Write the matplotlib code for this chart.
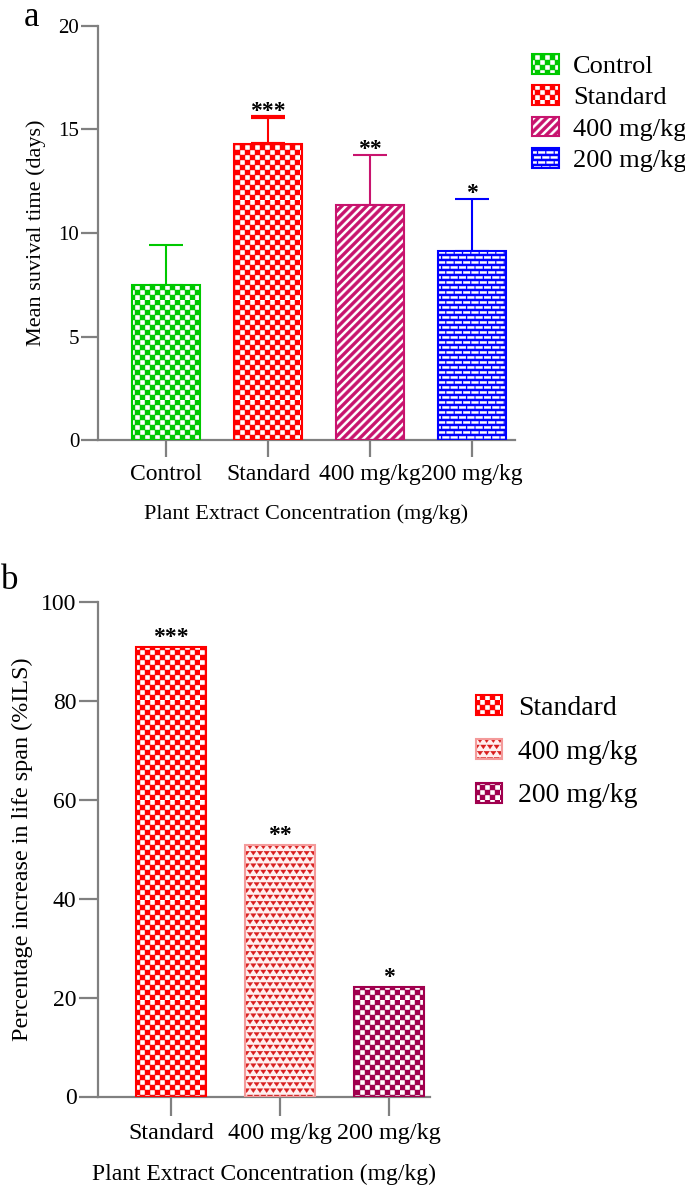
import numpy as np
import matplotlib
matplotlib.use('Agg')
import matplotlib.pyplot as plt
import matplotlib.hatch as mhatch
from matplotlib.path import Path

# Data
groups_a = ['Control', 'Standard', '400 mg/kg', '200 mg/kg']
survival_mean = [7.5, 14.3, 11.35, 9.15]
survival_err = [1.9, 1.3, 2.4, 2.5]
stars_a = ['', '***', '**', '*']

groups_b = ['Standard', '400 mg/kg', '200 mg/kg']
ils_percent = [90.8, 50.8, 22.2]
stars_b = ['***', '**', '*']

# (face, pattern colour, outline, pattern)
style_a = [
    ('white', '#00C800', '#00C800', '*'),
    ('white', '#FF0000', '#FF0000', '*'),
    ('white', '#C8146E', '#C8146E', '/'),
    ('#0000FF', 'white', '#0000FF', 'o'),
]
style_b = [
    ('white', '#FF0000', '#FF0000', '*'),
    ('#FFF0F0', '#D81E1E', '#F49A9A', '.'),
    ('white', '#A0004E', '#A0004E', '*'),
]
AXIS_GRAY = '#808080'


# Fill patterns similar to the GraphPad ones (checker, bricks, stripes, small hearts)
def _rect(x, y, w, h):
    return [(x, y), (x + w, y), (x + w, y + h), (x, y + h), (x, y)]


def checker_polys(n=20):
    s = 1.0 / n
    return [_rect(j * s, i * s, s, s) for i in range(n) for j in range(n) if (i + j) % 2 == 0]


def brick_polys(rows=20, cols=12):
    dy, dx = 1.0 / rows, 1.0 / cols
    polys = []
    for r in range(rows):
        off = (r % 2) * dx / 2
        for k in range(-1, cols + 1):
            polys.append(_rect(k * dx + off + 0.1 * dx, r * dy + 0.3 * dy, 0.8 * dx, 0.42 * dy))
    return polys


def stripe_polys(n=12, frac=0.5):
    w = frac / n
    return [[(0, c), (1, 1 + c), (1, 1 + c + w), (0, c + w), (0, c)]
            for c in np.arange(-n, n) / n]


def heart_polys(rows=16, cols=15):
    dy, dx = 1.0 / rows, 1.0 / cols
    polys = []
    for r in range(rows):
        off = (r % 2) * dx / 2
        for k in range(-1, cols + 1):
            x, y = k * dx + off, r * dy
            polys.append([(x + 0.1 * dx, y + 0.8 * dy), (x + 0.9 * dx, y + 0.8 * dy),
                          (x + 0.5 * dx, y + 0.2 * dy), (x + 0.5 * dx, y + 0.2 * dy),
                          (x + 0.1 * dx, y + 0.8 * dy)])
    return polys


HATCH_POLYS = {'*': checker_polys(), 'o': brick_polys(), '/': stripe_polys(), '.': heart_polys()}


class PolygonHatch(mhatch.HatchPatternBase):
    def __init__(self, hatch, density):
        self.polys = [p for ch, ps in HATCH_POLYS.items() if ch in hatch for p in ps]
        self.num_vertices = 5 * len(self.polys)

    def set_vertices_and_codes(self, vertices, codes):
        vertices[:] = np.asarray(self.polys, float).reshape(-1, 2)
        codes[:] = np.tile([Path.MOVETO, Path.LINETO, Path.LINETO, Path.LINETO, Path.CLOSEPOLY],
                           len(self.polys))


mhatch._hatch_types = [PolygonHatch]

plt.rcParams['font.family'] = ['Liberation Serif', 'DejaVu Serif']
plt.rcParams['hatch.linewidth'] = 0.3


def patterned_bar(ax, x, h, width, style):
    face, mark, edge, hatch = style
    base = ax.bar(x, h, width, color=face, edgecolor=mark, linewidth=0, hatch=hatch, zorder=2)
    rim = ax.bar(x, h, width, facecolor='none', edgecolor=edge, linewidth=1.5, zorder=3)
    return (base[0], rim[0])


def style_axes(ax, ytick_size, xtick_size, tick_len):
    for s in ['top', 'right']:
        ax.spines[s].set_visible(False)
    for s in ['left', 'bottom']:
        ax.spines[s].set_color(AXIS_GRAY)
        ax.spines[s].set_linewidth(1.6)
    ax.tick_params(colors=AXIS_GRAY, labelcolor='black', width=1.6, length=tick_len)
    ax.tick_params(axis='y', labelsize=ytick_size, pad=1.5)
    ax.tick_params(axis='x', labelsize=xtick_size, pad=5)


fig = plt.figure(figsize=(6.85, 11.88), dpi=100)

# Panel a
ax1 = fig.add_axes([98 / 685, 1 - 440 / 1188, 417 / 685, 414 / 1188])
handles_a = []
for i, (h, e, st) in enumerate(zip(survival_mean, survival_err, style_a)):
    handles_a.append(patterned_bar(ax1, i, h, 0.667, st))
    ax1.errorbar(i, h, yerr=[[0], [e]], fmt='none', ecolor=st[2], elinewidth=1.5,
                 capsize=12, capthick=3 if i == 1 else 1.5, zorder=1)
    if stars_a[i]:
        ax1.annotate(stars_a[i], (i, h + e), xytext=(0, 0), textcoords='offset points',
                     ha='center', va='baseline', fontsize=17, fontweight='bold')
ax1.set_xlim(-0.667, 3.42)
ax1.set_ylim(0, 20)
ax1.set_yticks([0, 5, 10, 15, 20])
ax1.set_xticks(range(len(groups_a)))
ax1.set_xticklabels(groups_a)
style_axes(ax1, 15, 17, 12)
ax1.set_ylabel('Mean suvival time (days)', fontsize=16, labelpad=9)
ax1.set_xlabel('Plant Extract Concentration (mg/kg)', fontsize=16, labelpad=14)
ax1.legend(handles_a, groups_a, loc='upper left', bbox_to_anchor=(532 / 685, 1 - 54 / 1188),
           bbox_transform=fig.transFigure, frameon=False, fontsize=19,
           handlelength=1.02, handleheight=0.76, handletextpad=0.53, labelspacing=0.28,
           borderpad=0, borderaxespad=0)
fig.text(24 / 685, 1 - 1 / 1188, 'a', fontsize=25, va='top')

# Panel b
ax2 = fig.add_axes([98 / 685, 1 - 1096.5 / 1188, 332 / 685, 494.5 / 1188])
handles_b = []
for i, (h, st) in enumerate(zip(ils_percent, style_b)):
    handles_b.append(patterned_bar(ax2, i, h, 0.65, st))
    ax2.annotate(stars_b[i], (i, h), xytext=(0, 3), textcoords='offset points',
                 ha='center', va='baseline', fontsize=17, fontweight='bold')
ax2.set_xlim(-0.67, 2.376)
ax2.set_ylim(0, 100)
ax2.set_yticks([0, 20, 40, 60, 80, 100])
ax2.set_xticks(range(len(groups_b)))
ax2.set_xticklabels(groups_b)
style_axes(ax2, 17, 17.4, 14)
ax2.set_ylabel('Percentage increase in life span (%ILS)', fontsize=17.4, labelpad=6)
ax2.set_xlabel('Plant Extract Concentration (mg/kg)', fontsize=17, labelpad=14)
ax2.legend(handles_b, groups_b, loc='upper left', bbox_to_anchor=(476 / 685, 1 - 695 / 1188),
           bbox_transform=fig.transFigure, frameon=False, fontsize=20,
           handlelength=0.94, handleheight=0.74, handletextpad=0.58, labelspacing=0.65,
           borderpad=0, borderaxespad=0)
fig.text(1 / 685, 1 - 589 / 1188, 'b', fontsize=25, va='baseline')

fig.savefig('out.png', dpi=100)
